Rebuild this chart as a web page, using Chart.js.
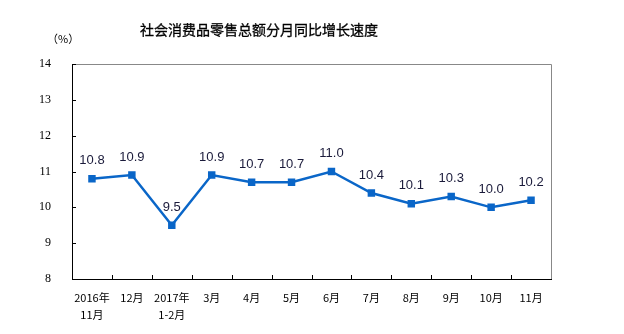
<!DOCTYPE html>
<html>
<head>
<meta charset="utf-8">
<script src="https://cdn.jsdelivr.net/npm/chart.js@4"></script>
<style>
  html, body { margin: 0; padding: 0; background: #fff; }
  .wrap { position: relative; width: 624px; height: 334px; }
  .title {
    position: absolute; left: 140px; top: 19px; width: 230px;
    font: 14px "Noto Sans CJK SC", sans-serif; color: #000; white-space: nowrap;
    -webkit-text-stroke: 0.3px #000;
  }
  .unit {
    position: absolute; left: 47px; top: 30px;
    font: 11px "Noto Sans CJK SC", serif; color: #000;
  }
  canvas { position: absolute; left: 0; top: 0; }
</style>
</head>
<body>
<div class="wrap">
  <canvas id="chart" width="624" height="334"></canvas>
  <div class="title">社会消费品零售总额分月同比增长速度</div>
  <div class="unit">（%）</div>
</div>
<script>
const months = [['2016年', '11月'], '12月', ['2017年', '1-2月'], '3月', '4月', '5月', '6月', '7月', '8月', '9月', '10月', '11月'];
const growth = [10.8, 10.9, 9.5, 10.9, 10.7, 10.7, 11.0, 10.4, 10.1, 10.3, 10.0, 10.2];
const yMin = 8;
const yMax = 14;

document.addEventListener('DOMContentLoaded', () => {
    // frame, inward ticks and value labels
    const decor = {
        id: 'decor',
        afterDatasetsDraw(chart) {
            const { ctx, chartArea: a, scales: { y } } = chart;
            ctx.save();
            ctx.lineWidth = 1;
            ctx.strokeStyle = '#888';
            ctx.beginPath();
            ctx.moveTo(a.left, a.top + 0.5);
            ctx.lineTo(a.right + 0.5, a.top + 0.5);
            ctx.lineTo(a.right + 0.5, a.bottom);
            ctx.stroke();

            ctx.strokeStyle = '#000';
            ctx.beginPath();
            ctx.moveTo(a.left + 0.5, a.top);
            ctx.lineTo(a.left + 0.5, a.bottom + 0.5);
            ctx.lineTo(a.right + 1, a.bottom + 0.5);
            // y ticks
            for (let v = yMin; v <= yMax; v++) {
                const py = Math.round(y.getPixelForValue(v)) + 0.5;
                ctx.moveTo(a.left, py);
                ctx.lineTo(a.left + 4, py);
            }
            // x ticks between categories
            const w = (a.right - a.left) / months.length;
            for (let i = 1; i < months.length; i++) {
                const px = Math.round(a.left + i * w) + 0.5;
                ctx.moveTo(px, a.bottom);
                ctx.lineTo(px, a.bottom - 4);
            }
            ctx.stroke();

            // value labels
            const meta = chart.getDatasetMeta(0);
            ctx.fillStyle = '#1a1a3a';
            ctx.font = '13px "Liberation Sans", Arial, sans-serif';
            ctx.textAlign = 'center';
            ctx.textBaseline = 'middle';
            meta.data.forEach((pt, i) => {
                ctx.fillText(growth[i].toFixed(1), pt.x, pt.y - 18);
            });
            ctx.restore();
        }
    };

    new Chart(document.getElementById('chart'), {
        type: 'line',
        data: {
            labels: months,
            datasets: [{
                data: growth,
                borderColor: '#0a66c8',
                backgroundColor: '#0a66c8',
                borderWidth: 2.5,
                pointStyle: 'rect',
                pointRadius: 3.5,
                pointHoverRadius: 3.5,
                tension: 0
            }]
        },
        options: {
            responsive: false,
            animation: false,
            layout: { padding: { top: 64, right: 73, left: 0, bottom: 0 } },
            plugins: { legend: { display: false }, tooltip: { enabled: false } },
            scales: {
                x: {
                    offset: true,
                    border: { display: false },
                    grid: { display: false },
                    ticks: {
                        color: '#000',
                        padding: 3,
                        maxRotation: 0,
                        autoSkip: false,
                        font: { family: '"Noto Sans CJK SC", sans-serif', size: 11, lineHeight: 1.5 }
                    },
                    afterFit(scale) { scale.height = 55; }
                },
                y: {
                    min: yMin,
                    max: yMax,
                    border: { display: false },
                    grid: { display: false },
                    ticks: {
                        stepSize: 1,
                        color: '#000',
                        padding: 13,
                        font: { family: '"Liberation Serif", serif', size: 12 }
                    },
                    afterFit(scale) { scale.width = 72; }
                }
            }
        },
        plugins: [decor]
    });
});
</script>
</body>
</html>
